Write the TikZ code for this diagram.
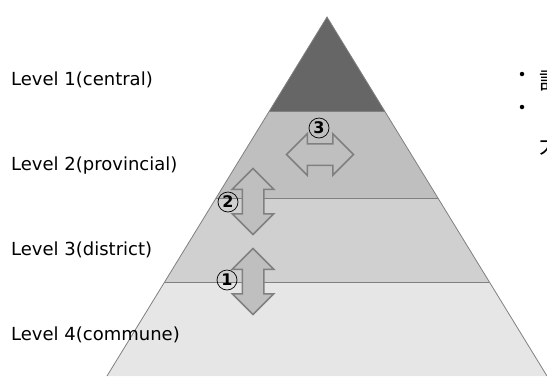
\documentclass[tikz,border=0pt]{standalone}
\usepackage{fontspec}
\setmainfont{DejaVu Sans}
\newfontfamily\cjk{Noto Sans CJK JP}
\usetikzlibrary{shapes.arrows,calc}
\definecolor{topgray}{HTML}{666666}
\definecolor{provgray}{HTML}{BFBFBF}
\definecolor{distgray}{HTML}{D0D0D0}
\definecolor{commgray}{HTML}{E6E6E6}
\definecolor{edgegray}{HTML}{808080}
\tikzset{
	level label/.style={anchor=base west, inner sep=0pt, font=\fontsize{18}{21}\selectfont},
	layer line/.style={draw=edgegray, line width=0.8pt},
	link arrow/.style={double arrow, draw=edgegray, line width=1.5pt, fill=provgray, inner xsep=0pt, inner ysep=10pt, double arrow head extend=10pt, minimum height=66pt},
	step mark/.style={circle, draw, line width=0.7pt, minimum size=20pt, inner sep=0pt, font=\bfseries\fontsize{16}{16}\selectfont},
	bullet mark/.style={circle, fill=black, minimum size=4.5pt, inner sep=0pt},
	side text/.style={anchor=base west, inner sep=0pt, font=\cjk\fontsize{23}{27}\selectfont}
}
\begin{document}
\begin{tikzpicture}[x=1pt,y=-1pt]
	\useasboundingbox (0,0) rectangle (547,376);
	\coordinate (apex) at (327,17);
	\coordinate (bl) at (107,376);
	\coordinate (br) at (547,376);
	\coordinate (l1) at ($(apex)!0.263!(bl)$);
	\coordinate (r1) at ($(apex)!0.263!(br)$);
	\coordinate (l2) at ($(apex)!0.504!(bl)$);
	\coordinate (r2) at ($(apex)!0.504!(br)$);
	\coordinate (l3) at ($(apex)!0.738!(bl)$);
	\coordinate (r3) at ($(apex)!0.738!(br)$);
	\fill[commgray] (l3) -- (r3) -- (br) -- (bl) -- cycle;
	\fill[distgray] (l2) -- (r2) -- (r3) -- (l3) -- cycle;
	\fill[provgray] (l1) -- (r1) -- (r2) -- (l2) -- cycle;
	\fill[topgray] (apex) -- (r1) -- (l1) -- cycle;
	\draw[layer line] (bl) -- (apex) -- (br);
	\draw[layer line] (l1) -- (r1);
	\draw[layer line] (l2) -- (r2);
	\draw[layer line] (l3) -- (r3);

	\node[link arrow, rotate=90] (a1) at (253,281.5) {};
	\node[link arrow, rotate=90] (a2) at (253,201.5) {};
	\node[link arrow, minimum height=67pt] (a3) at (320,154.5) {};
	\node[step mark] (n1) at (227,280) {1};
	\node[step mark] (n2) at (228,202) {2};
	\node[step mark] (n3) at (319,128) {3};

	\node[level label] (lv1) at (11,85) {Level 1(central)};
	\node[level label] (lv2) at (11,170) {Level 2(provincial)};
	\node[level label] (lv3) at (11,255) {Level 3(district)};
	\node[level label] (lv4) at (11,340) {Level 4(commune)};

	\node[bullet mark] (b1) at (522,74) {};
	\node[bullet mark] (b2) at (522,107) {};
	\node[side text] (t1) at (539,89) {計};
	\node[side text] (t2) at (537,114) {（};
	\node[side text] (t3) at (539,153) {大};
\end{tikzpicture}
\end{document}
